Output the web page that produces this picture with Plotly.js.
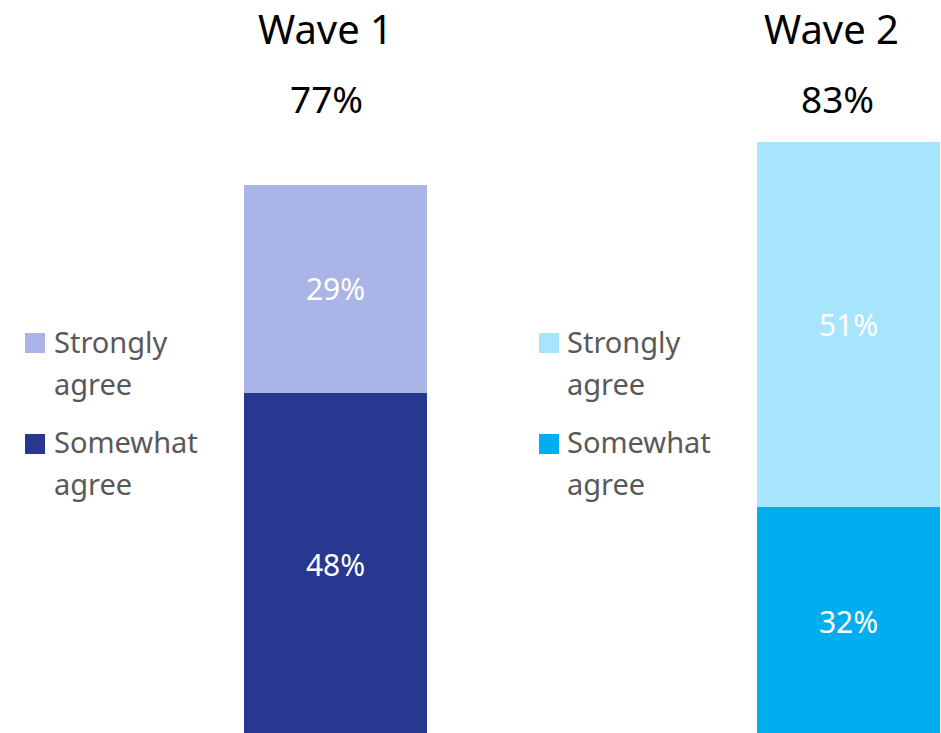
<!DOCTYPE html>
<html>
<head>
<meta charset="utf-8">
<script src="https://cdn.plot.ly/plotly-3.0.1.min.js"></script>
<style>html,body{margin:0;padding:0;background:#fff;}#chart{width:941px;height:733px;}</style>
</head>
<body>
<div id="chart"></div>
<script>
// ---- data ----
const waves = ['Wave 1', 'Wave 2'];
const seriesNames = ['Strongly agree', 'Somewhat agree'];
const legendLines = [['Strongly', 'agree'], ['Somewhat', 'agree']];
const stronglyAgree = [29, 51];
const somewhatAgree = [48, 32];
const colorsStrongly = ['#AAB4E6', '#A6E5FC'];
const colorsSomewhat = ['#283891', '#00AEEF'];

// ---- layout helpers ----
const W = 941, H = 733;
const FONT = 'Noto Sans, Open Sans, sans-serif';
const px = v => 1 - v / H;   // pixel-from-top -> paper y
const pxX = v => v / W;      // pixel-from-left -> paper x

const domains = [[244 / W, 427 / W], [757 / W, 940 / W]];
const titleCenters = [325, 831];
const totalCenters = [326, 837];
const legendSquareX = [25, 539];
const legendTextX = [53, 566];

const traces = [];
waves.forEach((w, i) => {
  const xa = i === 0 ? 'x' : 'x2';
  traces.push({
    type: 'bar', x: [w], y: [somewhatAgree[i]], name: seriesNames[1],
    xaxis: xa, yaxis: 'y', width: 1,
    marker: {color: colorsSomewhat[i], line: {width: 0}},
    texttemplate: '%{y}%', textposition: 'inside', insidetextanchor: 'middle',
    textangle: 0, textfont: {color: '#FFFFFF', size: 30, family: FONT},
    hoverinfo: 'skip', showlegend: false
  });
  traces.push({
    type: 'bar', x: [w], y: [stronglyAgree[i]], name: seriesNames[0],
    xaxis: xa, yaxis: 'y', width: 1,
    marker: {color: colorsStrongly[i], line: {width: 0}},
    texttemplate: '%{y}%', textposition: 'inside', insidetextanchor: 'middle',
    textangle: 0, textfont: {color: '#FFFFFF', size: 30, family: FONT},
    hoverinfo: 'skip', showlegend: false
  });
});

const annotations = [];
const shapes = [];
waves.forEach((w, i) => {
  annotations.push({
    xref: 'paper', yref: 'paper', x: pxX(titleCenters[i]), y: px(29),
    xanchor: 'center', yanchor: 'middle', showarrow: false, borderpad: 0,
    text: w, font: {size: 40, color: '#000000', family: FONT}
  });
  annotations.push({
    xref: 'paper', yref: 'paper', x: pxX(totalCenters[i]), y: px(98.5),
    xanchor: 'center', yanchor: 'middle', showarrow: false, borderpad: 0,
    text: (stronglyAgree[i] + somewhatAgree[i]) + '%',
    font: {size: 37, color: '#000000', family: FONT}
  });
  // legend
  const itemTops = [333, 434];
  const lineYs = [[341.5, 383.5], [441.6, 483.6]];
  const itemColors = [colorsStrongly[i], colorsSomewhat[i]];
  [0, 1].forEach(k => {
    shapes.push({
      type: 'rect', xref: 'paper', yref: 'paper',
      x0: pxX(legendSquareX[i]), x1: pxX(legendSquareX[i] + 20),
      y0: px(itemTops[k]), y1: px(itemTops[k] + 20),
      fillcolor: itemColors[k], line: {width: 0}
    });
    legendLines[k].forEach((t, j) => {
      annotations.push({
        xref: 'paper', yref: 'paper', x: pxX(legendTextX[i]), y: px(lineYs[k][j]),
        xanchor: 'left', yanchor: 'middle', showarrow: false, borderpad: 0,
        text: t, font: {size: 29, color: '#595959', family: FONT}
      });
    });
  });
});

const axisBase = {visible: false, showgrid: false, zeroline: false, fixedrange: true};
const layout = {
  width: W, height: H,
  margin: {l: 0, r: 0, t: 0, b: 0, pad: 0},
  paper_bgcolor: '#FFFFFF', plot_bgcolor: '#FFFFFF',
  barmode: 'stack', bargap: 0,
  showlegend: false,
  font: {family: FONT},
  xaxis: Object.assign({}, axisBase, {domain: domains[0], range: [-0.5, 0.5], type: 'category', anchor: 'y'}),
  xaxis2: Object.assign({}, axisBase, {domain: domains[1], range: [-0.5, 0.5], type: 'category', anchor: 'y'}),
  yaxis: Object.assign({}, axisBase, {domain: [0, 1], range: [0.5, 102.8]}),
  uniformtext: {mode: false},
  annotations: annotations,
  shapes: shapes
};

Plotly.newPlot('chart', traces, layout, {staticPlot: true, displayModeBar: false});
</script>
</body>
</html>
